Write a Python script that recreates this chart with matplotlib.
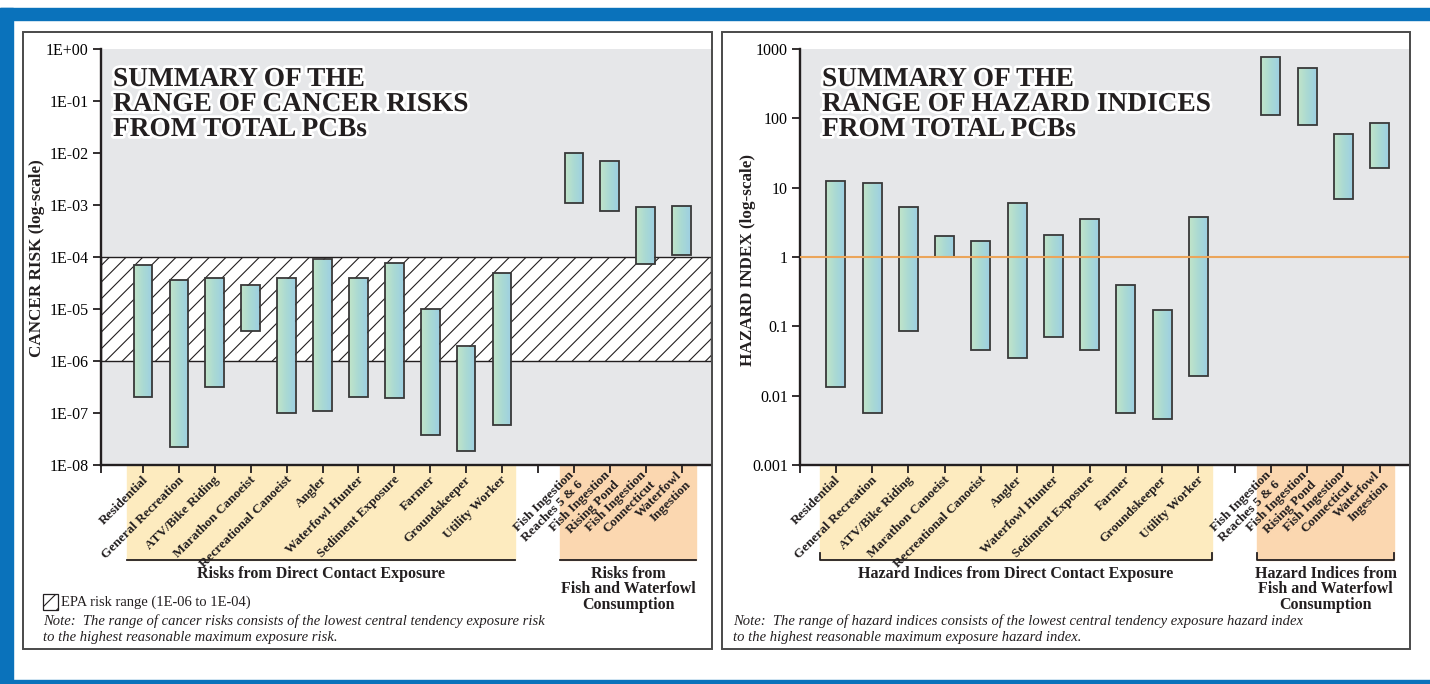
import numpy as np
import matplotlib
matplotlib.use("Agg")
import matplotlib.pyplot as plt
from matplotlib.patches import Rectangle
from matplotlib.colors import LinearSegmentedColormap
from matplotlib.transforms import blended_transform_factory, ScaledTranslation
import matplotlib.patheffects as pe

plt.rcParams["font.family"] = ["Liberation Serif", "DejaVu Serif"]
plt.rcParams["hatch.linewidth"] = 0.8

# categories
direct_labels = ["Residential", "General Recreation", "ATV/Bike Riding", "Marathon Canoeist",
                 "Recreational Canoeist", "Angler", "Waterfowl Hunter", "Sediment Exposure",
                 "Farmer", "Groundskeeper", "Utility Worker"]
fish_labels = ["Fish Ingestion\nReaches 5 & 6", "Fish Ingestion\nRising Pond",
               "Fish Ingestion\nConnecticut", "Waterfowl\nIngestion"]

# cancer risk ranges (low = central tendency, high = reasonable maximum)
cancer_low = [2.0e-7, 2.2e-8, 3.1e-7, 3.8e-6, 1.0e-7, 1.1e-7, 2.0e-7, 1.95e-7, 3.8e-8, 1.9e-8, 5.9e-8,
              1.07e-3, 7.8e-4, 7.4e-5, 1.07e-4]
cancer_high = [7.0e-5, 3.6e-5, 3.9e-5, 2.9e-5, 3.9e-5, 9.1e-5, 3.9e-5, 7.8e-5, 1.02e-5, 1.96e-6, 5.0e-5,
               9.8e-3, 7.0e-3, 9.3e-4, 9.7e-4]
cancer_ticks = [1e-8, 1e-7, 1e-6, 1e-5, 1e-4, 1e-3, 1e-2, 1e-1, 1e0]
cancer_ticklabels = ["1E-08", "1E-07", "1E-06", "1E-05", "1E-04", "1E-03", "1E-02", "1E-01", "1E+00"]
epa_range = [1e-6, 1e-4]

# hazard index ranges
hazard_low = [0.0132, 0.0056, 0.085, 1.0, 0.045, 0.035, 0.071, 0.046, 0.0056, 0.0046, 0.019,
              113, 79, 6.9, 19]
hazard_high = [12.3, 11.6, 5.35, 2.02, 1.71, 6.0, 2.1, 3.55, 0.40, 0.17, 3.76,
               758, 534, 59, 84.5]
hazard_ticks = [0.001, 0.01, 0.1, 1, 10, 100, 1000]
hazard_ticklabels = ["0.001", "0.01", "0.1", "1", "10", "100", "1000"]
hazard_threshold = 1

W, H = 1430, 684
DPI = 100
fig = plt.figure(figsize=(W / DPI, H / DPI), dpi=DPI)


def fx(x):
    return x / W


def fy(y):
    return 1 - y / H


BLUE = "#0a72bb"
GRAY = "#e6e7e9"
YELLOW = "#fdebbf"
PEACH = "#fbd7b0"
INK = "#231f20"
bar_cmap = LinearSegmentedColormap.from_list("bar", ["#c0e4c9", "#a9d9d4", "#9dcfe3"])

# blue frame and panel borders
fig.patches.append(Rectangle((0, fy(20)), 1, fy(8) - fy(20), transform=fig.transFigure, color=BLUE, zorder=0))
fig.patches.append(Rectangle((0, 0), fx(13), fy(8), transform=fig.transFigure, color=BLUE, zorder=0))
fig.patches.append(Rectangle((0, 0), 1, fy(680), transform=fig.transFigure, color=BLUE, zorder=0))
for x0, x1 in [(23, 712), (722, 1410)]:
    fig.patches.append(Rectangle((fx(x0), fy(649)), fx(x1) - fx(x0), fy(32) - fy(649),
                                 transform=fig.transFigure, fill=False, ec="#4a4a4a", lw=1.4, zorder=1))

direct_pos = list(range(len(direct_labels)))
fish_pos = [len(direct_labels) + 1 + i for i in range(len(fish_labels))]
positions = direct_pos + fish_pos
labels = direct_labels + fish_labels


def draw_panel(ax, low, high, xlim, ticks, ticklabels, brackets):
    ax.set_facecolor(GRAY)
    ax.set_yscale("log")
    grad = np.linspace(0, 1, 64).reshape(1, -1)
    w = 0.52
    for x, lo, hi in zip(positions, low, high):
        ax.imshow(grad, cmap=bar_cmap, extent=[x - w / 2, x + w / 2, lo, hi], aspect="auto",
                  interpolation="bilinear", zorder=3)
    ax.bar(positions, np.array(high) - np.array(low), bottom=low, width=w, fill=False,
           edgecolor="#383838", linewidth=1.3, zorder=4)
    ax.set_xlim(*xlim)
    ax.set_ylim(ticks[0], ticks[-1])
    ax.set_yticks(ticks)
    ax.set_yticklabels(ticklabels)
    ax.minorticks_off()
    ax.set_xticks([xlim[0]] + list(range(positions[-1] + 1)))
    ax.set_xticklabels([])
    ax.tick_params(direction="out", length=5.8, width=1.3, color=INK, labelsize=11.5, pad=3)
    for s in ["top", "right"]:
        ax.spines[s].set_visible(False)
    for s in ["left", "bottom"]:
        ax.spines[s].set_linewidth(1.7)
        ax.spines[s].set_color(INK)

    btrans = blended_transform_factory(ax.transData, ax.transAxes)
    off = ScaledTranslation(3 / DPI, -13 / DPI, fig.dpi_scale_trans)
    for x, lab in zip(positions, labels):
        ax.text(x, 0, lab, transform=btrans + off, rotation=45, rotation_mode="anchor",
                ha="right", va="center", multialignment="right", fontsize=9.5, fontweight="bold",
                linespacing=1.15, clip_on=False, color=INK)

    band_bottom = -95 / 416
    for (x0, x1), col in zip([(-0.45, 10.37), (11.62, 15.4)], [YELLOW, PEACH]):
        ax.add_patch(Rectangle((x0, 0), x1 - x0, band_bottom, transform=btrans, color=col,
                               clip_on=False, zorder=0))
        if brackets:
            ax.plot([x0, x0, x1, x1], [band_bottom + 0.016, band_bottom, band_bottom, band_bottom + 0.016],
                    transform=btrans, color=INK, lw=1.3, clip_on=False)
        else:
            ax.plot([x0, x1], [band_bottom, band_bottom], transform=btrans, color=INK,
                    lw=1.3, clip_on=False)


def title(x, lines):
    for i, line in enumerate(lines):
        fig.text(fx(x), fy(86 + 25 * i), line, fontsize=19.7, fontweight="bold", color=INK,
                 va="baseline", path_effects=[pe.withStroke(linewidth=4, foreground="white")])


def group_texts(ax, left_text, right_text):
    ft = blended_transform_factory(ax.transData, fig.transFigure)
    ax.text((-0.45 + 10.37) / 2, fy(574), left_text, transform=ft, ha="center", va="center",
            fontsize=11.5, fontweight="bold", clip_on=False, color=INK)
    ax.text((11.62 + 15.4) / 2, fy(566), right_text, transform=ft, ha="center", va="top",
            fontsize=11.5, fontweight="bold", linespacing=0.95, clip_on=False, color=INK)


# ---- left panel: cancer risks
ax1 = fig.add_axes([fx(101), fy(465), fx(711) - fx(101), fy(49) - fy(465)])
ax1.axhspan(epa_range[0], epa_range[1], facecolor="white", edgecolor=INK, hatch="//",
            lw=1.0, zorder=1)
draw_panel(ax1, cancer_low, cancer_high, (-1.17, 15.82), cancer_ticks, cancer_ticklabels, False)
fig.text(fx(37), fy(258), "CANCER RISK (log-scale)", rotation=90, ha="center", va="center",
         fontsize=12.3, fontweight="bold", color=INK)
title(113, ["SUMMARY OF THE", "RANGE OF CANCER RISKS", "FROM TOTAL PCBs"])
group_texts(ax1, "Risks from Direct Contact Exposure", "Risks from\nFish and Waterfowl\nConsumption")

fig.patches.append(Rectangle((fx(43), fy(610)), fx(58) - fx(43), fy(594) - fy(610), transform=fig.transFigure,
                             facecolor="white", edgecolor=INK, hatch="//", lw=0.9, zorder=2))
fig.text(fx(61), fy(602), "EPA risk range (1E-06 to 1E-04)", fontsize=10.5, va="center", color=INK)
fig.text(fx(43), fy(621), "Note:  The range of cancer risks consists of the lowest central tendency exposure risk",
         fontsize=10.5, style="italic", va="center", color=INK)
fig.text(fx(43), fy(638), "to the highest reasonable maximum exposure risk.",
         fontsize=10.5, style="italic", va="center", color=INK)

# ---- right panel: hazard indices
ax2 = fig.add_axes([fx(800), fy(465), fx(1409) - fx(800), fy(49) - fy(465)])
ax2.axhline(hazard_threshold, color="#eba55a", lw=1.5, zorder=5)
draw_panel(ax2, hazard_low, hazard_high, (-0.99, 15.81), hazard_ticks, hazard_ticklabels, True)
fig.text(fx(748), fy(260), "HAZARD INDEX (log-scale)", rotation=90, ha="center", va="center",
         fontsize=12.3, fontweight="bold", color=INK)
title(822, ["SUMMARY OF THE", "RANGE OF HAZARD INDICES", "FROM TOTAL PCBs"])
group_texts(ax2, "Hazard Indices from Direct Contact Exposure",
            "Hazard Indices from\nFish and Waterfowl\nConsumption")

fig.text(fx(733), fy(621),
         "Note:  The range of hazard indices consists of the lowest central tendency exposure hazard index",
         fontsize=10.5, style="italic", va="center", color=INK)
fig.text(fx(733), fy(638), "to the highest reasonable maximum exposure hazard index.",
         fontsize=10.5, style="italic", va="center", color=INK)

fig.savefig("out.png", dpi=DPI)
